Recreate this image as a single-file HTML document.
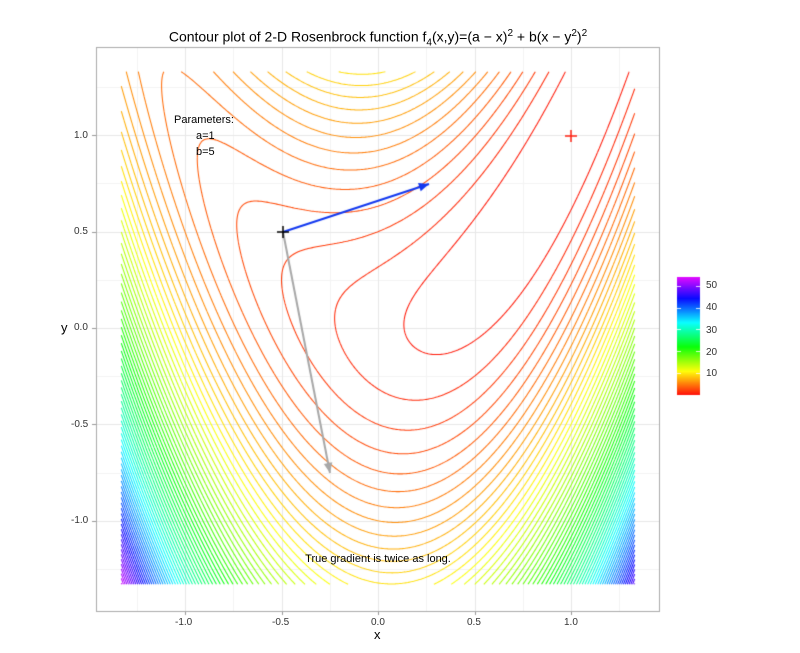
<!DOCTYPE html>
<html><head><meta charset="utf-8">
<style>
body{margin:0;background:#fff;}
#w{position:relative;width:800px;height:653px;overflow:hidden;font-family:"Liberation Sans",Arial,sans-serif;}
canvas{position:absolute;left:0;top:0;}
.t{position:absolute;white-space:nowrap;color:#000;}
.tk{position:absolute;font-size:10px;color:#333;white-space:nowrap;}
</style></head><body>
<div id="w">
<canvas id="c" width="800" height="653"></canvas>
<div class="t" style="left:0;width:756px;text-align:center;top:28px;font-size:14px;">Contour plot of 2-D Rosenbrock function f<sub style="font-size:10px">4</sub>(x,y)=(a − x)<sup style="font-size:10px">2</sup> + b(x − y<sup style="font-size:10px">2</sup>)<sup style="font-size:10px">2</sup></div>
<div class="t" style="left:174px;top:114px;font-size:11px;">Parameters:</div>
<div class="t" style="left:196px;top:130px;font-size:11px;">a=1</div>
<div class="t" style="left:196px;top:146px;font-size:11px;">b=5</div>
<div class="t" style="left:0;width:756px;text-align:center;top:553px;font-size:11px;">True gradient is twice as long.</div>
<div class="t" style="left:374px;top:627px;font-size:13px;">x</div>
<div class="t" style="left:61px;top:320px;font-size:13px;">y</div>
<div class="tk" style="left:175px;top:617px;">-1.0</div>
<div class="tk" style="left:272px;top:617px;">-0.5</div>
<div class="tk" style="left:371px;top:617px;">0.0</div>
<div class="tk" style="left:467px;top:617px;">0.5</div>
<div class="tk" style="left:564px;top:617px;">1.0</div>
<div class="tk" style="left:74px;top:130px;">1.0</div>
<div class="tk" style="left:74px;top:226px;">0.5</div>
<div class="tk" style="left:74px;top:322px;">0.0</div>
<div class="tk" style="left:71px;top:419px;">-0.5</div>
<div class="tk" style="left:71px;top:515px;">-1.0</div>
<div class="tk" style="left:706px;top:280px;">50</div>
<div class="tk" style="left:706px;top:302px;">40</div>
<div class="tk" style="left:706px;top:325px;">30</div>
<div class="tk" style="left:706px;top:347px;">20</div>
<div class="tk" style="left:706px;top:368px;">10</div>
</div>
<script>
var c=document.getElementById('c'),g=c.getContext('2d');
var X0=378,Y0=328,S=193,SY=192.7;
function px(x){return X0+x*S;} function py(y){return Y0-y*SY;}
g.fillStyle='#fff';g.fillRect(0,0,800,653);
g.lineWidth=1;
g.strokeStyle='#f4f4f4';
[-1.25,-0.75,-0.25,0.25,0.75,1.25].forEach(function(v){
 var a=Math.round(px(v))+.5;g.beginPath();g.moveTo(a,47);g.lineTo(a,611);g.stroke();
 var b=Math.round(py(v))+.5;g.beginPath();g.moveTo(96,b);g.lineTo(660,b);g.stroke();});
g.strokeStyle='#e8e8e8';
[-1,-0.5,0,0.5,1].forEach(function(v){
 var a=Math.round(px(v))+.5;g.beginPath();g.moveTo(a,47);g.lineTo(a,611);g.stroke();
 var b=Math.round(py(v))+.5;g.beginPath();g.moveTo(96,b);g.lineTo(660,b);g.stroke();
 g.strokeStyle='#999';g.beginPath();g.moveTo(a,611);g.lineTo(a,615);g.stroke();
 g.beginPath();g.moveTo(92,b);g.lineTo(96,b);g.stroke();g.strokeStyle='#e8e8e8';});
g.strokeStyle='#aaa';g.strokeRect(96.5,47.5,563,564);
function f(x,y){return (1-x)*(1-x)+5*(y-x*x)*(y-x*x);}
function col(v){var h=Math.min(v/54,1)*292;return 'hsl('+h+',100%,52%)';}
var N=360,L=-1.33,R=1.33,d=(R-L)/N,z=[];
for(var i=0;i<=N;i++){z[i]=[];for(var j=0;j<=N;j++)z[i][j]=f(L+i*d,L+j*d);}
g.lineWidth=1.05;
for(var k=1;k<=71;k++){
 var lv=k*0.75;g.strokeStyle=col(lv);g.beginPath();
 for(var i=0;i<N;i++)for(var j=0;j<N;j++){
  var a=z[i][j],b=z[i+1][j],cc=z[i+1][j+1],dd=z[i][j+1];
  var pts=[];
  function e(v1,v2,x1,y1,x2,y2){if((v1<lv)!=(v2<lv)){var t=(lv-v1)/(v2-v1);pts.push([x1+(x2-x1)*t,y1+(y2-y1)*t]);}}
  var x=L+i*d,y=L+j*d;
  e(a,b,x,y,x+d,y);e(b,cc,x+d,y,x+d,y+d);e(cc,dd,x+d,y+d,x,y+d);e(dd,a,x,y+d,x,y);
  for(var p=0;p+1<pts.length;p+=2){g.moveTo(px(pts[p][0]),py(pts[p][1]));g.lineTo(px(pts[p+1][0]),py(pts[p+1][1]));}
 }
 g.stroke();
}
function arrow(x1,y1,x2,y2,color,w){
 g.strokeStyle=color;g.fillStyle=color;g.lineWidth=w;
 g.beginPath();g.moveTo(x1,y1);g.lineTo(x2,y2);g.stroke();
 var an=Math.atan2(y2-y1,x2-x1),l=11,s=0.4;
 g.beginPath();g.moveTo(x2,y2);g.lineTo(x2-l*Math.cos(an-s),y2-l*Math.sin(an-s));
 g.lineTo(x2-l*Math.cos(an+s),y2-l*Math.sin(an+s));g.closePath();g.fill();
}
arrow(283,232,330,473,'#a8a8a8',2);
arrow(283,232,429,184,'#1238f0',2);
g.strokeStyle='#000';g.lineWidth=1.5;
g.beginPath();g.moveTo(277,232);g.lineTo(289,232);g.moveTo(283,226);g.lineTo(283,238);g.stroke();
g.strokeStyle='#ff2010';
g.beginPath();g.moveTo(565,136);g.lineTo(577,136);g.moveTo(571,130);g.lineTo(571,142);g.stroke();
for(var r=277;r<395;r++){var v=(395-r)/(395-277)*54;g.fillStyle=col(v);g.fillRect(677,r,23,1);}
g.strokeStyle='rgba(255,255,255,0.8)';g.lineWidth=1;
[10,20,30,40,50].forEach(function(v){var yy=Math.round(395-v*(118/54))+.5;
 g.beginPath();g.moveTo(677,yy);g.lineTo(681,yy);g.moveTo(696,yy);g.lineTo(700,yy);g.stroke();});
</script>
</body></html>
